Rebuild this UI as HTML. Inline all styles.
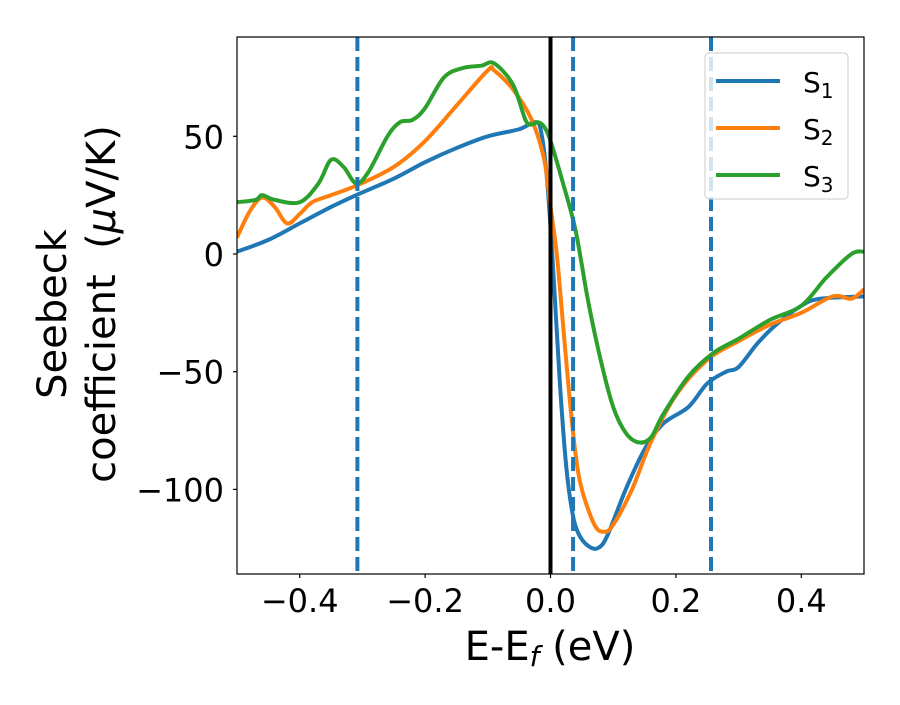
<!DOCTYPE html>
<html><head><meta charset="utf-8"><style>
body{margin:0;background:#fff}
svg text{font-family:"DejaVu Sans","Liberation Sans",sans-serif;fill:#000}
</style></head><body>
<svg id="chart" width="900" height="700" xmlns="http://www.w3.org/2000/svg">
<defs><clipPath id="clip"><rect x="237" y="37" width="627" height="537"/></clipPath></defs>
<g id="plot" clip-path="url(#clip)"></g>
<rect x="237" y="37" width="627" height="537" fill="none" stroke="#000" stroke-width="1.2"/>
<g id="axes"></g>
<text x="550" y="660" font-size="40" text-anchor="middle">E-E<tspan font-style="italic" font-size="28" dy="6">f</tspan><tspan dy="-6"> (eV)</tspan></text>
<text transform="translate(66,314) rotate(-90)" font-size="40" text-anchor="middle">Seebeck</text>
<text transform="translate(115,304) rotate(-90)" font-size="40" text-anchor="middle">coefficient&#160; (<tspan font-style="italic">μ</tspan>V/K)</text>
<g>
<rect x="705" y="53" width="143" height="146" rx="4" fill="#fff" fill-opacity="0.8" stroke="#ccc"/>
<line x1="716" y1="81" x2="780" y2="81" stroke="#1f77b4" stroke-width="4"/>
<text x="803" y="92" font-size="28">S<tspan font-size="20" dy="6">1</tspan></text>
<line x1="716" y1="128" x2="780" y2="128" stroke="#ff7f0e" stroke-width="4"/>
<text x="803" y="139" font-size="28">S<tspan font-size="20" dy="6">2</tspan></text>
<line x1="716" y1="175" x2="780" y2="175" stroke="#2ca02c" stroke-width="4"/>
<text x="803" y="186" font-size="28">S<tspan font-size="20" dy="6">3</tspan></text>
</g>
</svg>
<script>
const xTicks=[-0.4,-0.2,0.0,0.2,0.4];
const yTicks=[50,0,-50,-100];
const vLines=[-0.308,0.036,0.256];
const s1x=[-0.5,-0.45,-0.4,-0.35,-0.31,-0.25,-0.2,-0.15,-0.1,-0.05,-0.025,-0.015,-0.005,0.005,0.015,0.025,0.035,0.045,0.06,0.075,0.09,0.12,0.15,0.18,0.22,0.25,0.28,0.3,0.33,0.36,0.4,0.43,0.5];
const s1y=[1,6,13,20,25,32,39,45,50,53,56,52,30,-10,-55,-90,-110,-119,-124,-125,-120,-100,-83,-72,-65,-55,-50,-48,-38,-30,-22,-19,-18];
const s2x=[-0.5,-0.48,-0.46,-0.44,-0.42,-0.4,-0.38,-0.35,-0.31,-0.25,-0.2,-0.15,-0.1,-0.09,-0.06,-0.03,-0.01,0.0,0.01,0.02,0.03,0.04,0.05,0.07,0.085,0.1,0.13,0.16,0.2,0.25,0.3,0.35,0.4,0.45,0.48,0.5];
const s2y=[7,18,24,20,13,17,22,25,29,37,48,63,78,78,70,57,40,20,0,-30,-60,-85,-100,-115,-118,-115,-100,-80,-60,-45,-37,-30,-25,-18,-19,-15];
const s3x=[-0.5,-0.47,-0.46,-0.44,-0.4,-0.37,-0.35,-0.33,-0.31,-0.29,-0.26,-0.24,-0.22,-0.2,-0.17,-0.14,-0.11,-0.09,-0.06,-0.04,-0.03,-0.02,-0.01,0.0,0.02,0.04,0.06,0.08,0.1,0.12,0.14,0.16,0.18,0.22,0.26,0.3,0.35,0.4,0.44,0.48,0.5];
const s3y=[22,23,25,23,22,30,40,37,30,35,50,56,57,62,75,79,80,81,72,57,55,56,54,48,30,10,-20,-45,-65,-76,-80,-78,-68,-52,-42,-36,-28,-22,-10,0,1];
const NS="http://www.w3.org/2000/svg";
const X=v=>550.5+(v)*627, Y=v=>254-v*2.354;
const plot=document.getElementById('plot'), axes=document.getElementById('axes');
function mk(tag,attrs,parent){const e=document.createElementNS(NS,tag);for(const k in attrs)e.setAttribute(k,attrs[k]);parent.appendChild(e);return e;}
function path(xs,ys){const p=xs.map((x,i)=>[X(x),Y(ys[i])]);let d=`M${p[0][0]},${p[0][1]}`;
for(let i=0;i<p.length-1;i++){const p0=p[i-1]||p[i],p1=p[i],p2=p[i+1],p3=p[i+2]||p2;
d+=`C${p1[0]+(p2[0]-p0[0])/6},${p1[1]+(p2[1]-p0[1])/6} ${p2[0]-(p3[0]-p1[0])/6},${p2[1]-(p3[1]-p1[1])/6} ${p2[0]},${p2[1]}`;}return d;}
[[s1x,s1y,'#1f77b4','line-s1'],[s2x,s2y,'#ff7f0e','line-s2'],[s3x,s3y,'#2ca02c','line-s3']].forEach(s=>{
const e=mk('path',{d:path(s[0],s[1]),fill:'none',stroke:s[2],'stroke-width':4},plot);

});
vLines.forEach(v=>{const e=mk('line',{x1:X(v),x2:X(v),y1:37,y2:574,stroke:'#1f77b4','stroke-width':4,'stroke-dasharray':'14,6'},plot);

});
const z=mk('line',{x1:X(0),x2:X(0),y1:37,y2:574,stroke:'#000','stroke-width':4},plot);


xTicks.forEach(v=>{mk('line',{x1:X(v),x2:X(v),y1:574,y2:578,stroke:'#000','stroke-width':1.2},axes);
const t=mk('text',{x:X(v),y:612,'font-size':32,'text-anchor':'middle'},axes);t.textContent=(v<0?'−':'')+Math.abs(v).toFixed(1);

});
yTicks.forEach(v=>{mk('line',{x1:233,x2:237,y1:Y(v),y2:Y(v),stroke:'#000','stroke-width':1.2},axes);
const t=mk('text',{x:224,y:Y(v)+12,'font-size':32,'text-anchor':'end'},axes);t.textContent=(v<0?'−':'')+Math.abs(v);

});
</script>
</body></html>
